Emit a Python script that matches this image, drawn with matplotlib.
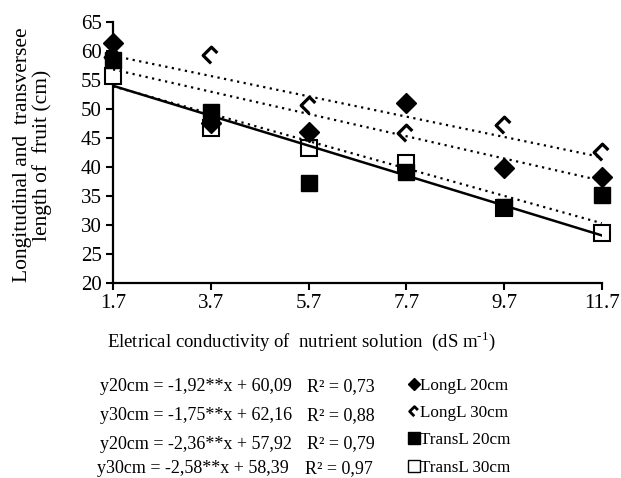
import matplotlib
matplotlib.use("Agg")
import matplotlib.pyplot as plt
import numpy as np
from matplotlib.lines import Line2D
from matplotlib.path import Path

plt.rcParams["font.family"] = ["Liberation Serif", "DejaVu Serif"]
plt.rcParams["mathtext.fontset"] = "custom"
plt.rcParams["mathtext.rm"] = "Liberation Serif"

# data
ec = [1.7, 3.7, 5.7, 7.7, 9.7, 11.7]
long20 = [61.4, 47.6, 46.0, 51.0, 39.8, 38.3]
long30 = [58.9, 59.3, 50.7, 45.9, 47.2, 42.6]
trans20 = [58.4, 49.5, 37.2, 39.1, 33.1, 35.2]
trans30 = [55.7, 46.7, 43.3, 40.7, 32.9, 28.6]

# fitted lines (slope, intercept) and R2
fits = {
    "long20": (-1.92, 60.09, "0,73"),
    "long30": (-1.75, 62.16, "0,88"),
    "trans20": (-2.36, 57.92, "0,79"),
    "trans30": (-2.58, 58.39, "0,97"),
}
eq_labels = [
    "y20cm = -1,92**x + 60,09",
    "y30cm = -1,75**x + 62,16",
    "y20cm = -2,36**x + 57,92",
    "y30cm = -2,58**x + 58,39",
]
legend_labels = ["LongL 20cm", "LongL 30cm", "TransL 20cm", "TransL 30cm"]
x_ticks = [1.7, 3.7, 5.7, 7.7, 9.7, 11.7]
y_ticks = [20, 25, 30, 35, 40, 45, 50, 55, 60, 65]

# open diamond missing its lower-right edge
caret = Path([(0.7, 0.3), (0.0, 1.0), (-1.0, 0.0), (-0.05, -0.95)],
             [Path.MOVETO, Path.LINETO, Path.LINETO, Path.LINETO])

fig = plt.figure(figsize=(6.21, 4.78), dpi=100)
ax = fig.add_axes([0.182, 0.408, 0.787, 0.546])

mk = dict(ls="none", clip_on=False)
ax.plot(ec, trans30, marker="s", ms=12, mfc="white", mec="black", mew=1.5, zorder=3, **mk)
ax.plot(ec, trans20, marker="s", ms=12, mfc="black", mec="black", zorder=4, **mk)
ax.plot(ec, long30, marker=caret, ms=12, mfc="none", mec="black", mew=2.3, zorder=4, **mk)
ax.plot(ec, long20, marker="D", ms=10, mfc="black", mec="black", zorder=5, **mk)

xs = np.array([ec[0], ec[-1]])
for key in ["long20", "long30", "trans20"]:
    a, b, _ = fits[key]
    ax.plot(xs, a * xs + b, color="black", lw=1.6, ls=(0, (1, 2)), zorder=6)
a, b, _ = fits["trans30"]
ax.plot(xs, a * xs + b, color="black", lw=1.8, zorder=6)

ax.set_xlim(1.7, 11.7)
ax.set_ylim(20, 65)
ax.set_xticks(x_ticks, [str(v) for v in x_ticks])
ax.set_yticks(y_ticks)
ax.tick_params(labelsize=15, length=5, width=1.5, direction="out", pad=3)
for s in ["top", "right"]:
    ax.spines[s].set_visible(False)
for s in ["left", "bottom"]:
    ax.spines[s].set_linewidth(1.6)
    ax.spines[s].set_clip_on(False)
ax.set_ylabel("Longitudinal and  transversee\nlength of  fruit (cm)", fontsize=15.5,
              linespacing=1.0)
ax.yaxis.set_label_coords(-0.125, 0.49)
ax.set_xlabel(r"Eletrical conductivity of  nutrient solution  (dS m$^{\text{-1}}$)",
              fontsize=13.5)
ax.xaxis.set_label_coords(0.385, -0.175)

# equations
eq_y = [0.192, 0.130, 0.071, 0.019]
eq_x = [0.161, 0.161, 0.161, 0.156]
r_x = [0.494, 0.494, 0.494, 0.491]
for lab, key, yy, xx, rx in zip(eq_labels, fits, eq_y, eq_x, r_x):
    fig.text(xx, yy, lab, fontsize=13, va="center")
    fig.text(rx, yy, "R² = " + fits[key][2], fontsize=13, va="center")

handles = [
    Line2D([], [], ls="none", marker="D", ms=6, mfc="black", mec="black"),
    Line2D([], [], ls="none", marker=caret, ms=7, mfc="none", mec="black", mew=2),
    Line2D([], [], ls="none", marker="s", ms=9, mfc="black", mec="black"),
    Line2D([], [], ls="none", marker="s", ms=9, mfc="white", mec="black", mew=1),
]
fig.legend(handles, legend_labels, loc="upper left", bbox_to_anchor=(0.647, 0.224),
           frameon=False, fontsize=12.3, handlelength=0.6, handletextpad=0.05,
           labelspacing=0.66, borderaxespad=0)

fig.savefig("out.png", dpi=100)
